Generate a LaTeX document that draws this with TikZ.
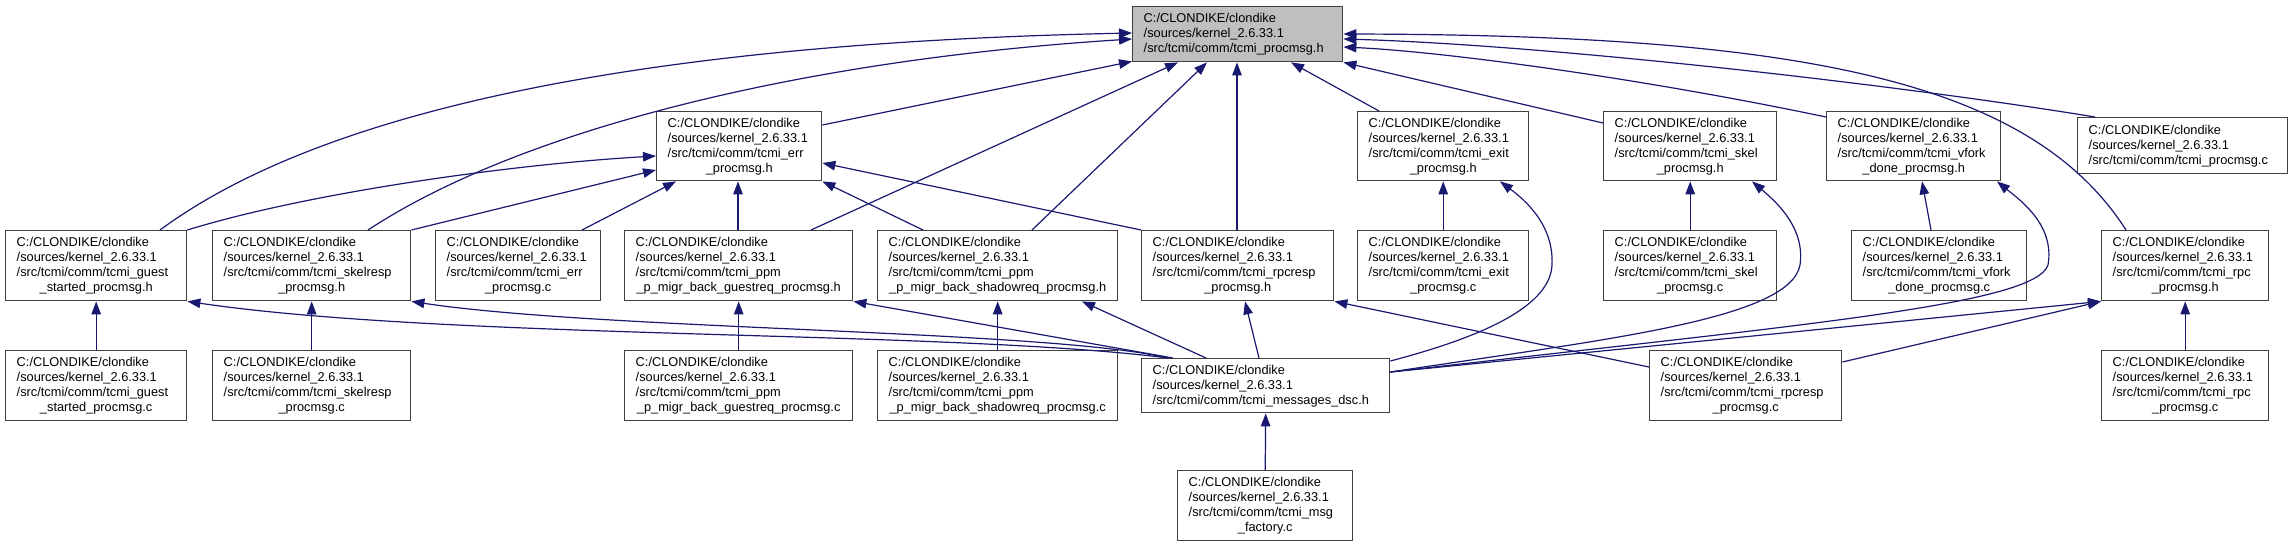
\documentclass[tikz,border=0pt]{standalone}
\usepackage{fontspec}
\setmainfont{Liberation Sans}
\usetikzlibrary{arrows.meta}
\definecolor{edgec}{RGB}{25,25,112}
\definecolor{boxc}{RGB}{64,64,64}
\definecolor{maingray}{RGB}{191,191,191}
\newcommand\mypth[1]{C:/CLONDIKE/clondike\\/sources/kernel\_2.6.33.1\\/src/tcmi/comm/tcmi\_#1}
\newcommand\myctr[1]{\hspace*{0pt plus 1filll}#1\hskip 0pt plus 1filll\mbox{}}
\tikzset{
  box/.style={draw=boxc, line width=1.4pt, anchor=north west, inner xsep=11pt, inner ysep=0pt,
    align=left, font=\fontsize{12.8}{15}\selectfont, fill=white},
  edge/.style={draw=edgec, line width=1.2pt, -{Triangle[length=13pt,width=9.5pt]}}
}
\begin{document}
\begin{tikzpicture}[x=1pt,y=-1pt]
\useasboundingbox (0,0) rectangle (2292,547);
% row 1
\node[box, fill=maingray, minimum width=210pt, minimum height=55pt, text width=188pt] (main) at (1132,6) {\mypth{procmsg.h}};
% row 2
\node[box, minimum width=165pt, minimum height=69pt, text width=143pt] (err_h) at (656,111) {\mypth{err}\\\myctr{\_procmsg.h}};
\node[box, minimum width=171pt, minimum height=69pt, text width=149pt] (exit_h) at (1357,111) {\mypth{exit}\\\myctr{\_procmsg.h}};
\node[box, minimum width=173pt, minimum height=69pt, text width=151pt] (skel_h) at (1603,111) {\mypth{skel}\\\myctr{\_procmsg.h}};
\node[box, minimum width=174pt, minimum height=69pt, text width=152pt] (vfork_h) at (1826,111) {\mypth{vfork}\\\myctr{\_done\_procmsg.h}};
\node[box, minimum width=210pt, minimum height=56pt, text width=188pt] (procmsg_c) at (2077,117) {\mypth{procmsg.c}};
% row 3
\node[box, minimum width=181pt, minimum height=70pt, text width=159pt] (guest_h) at (5,230) {\mypth{guest}\\\myctr{\_started\_procmsg.h}};
\node[box, minimum width=198pt, minimum height=70pt, text width=176pt] (skelresp_h) at (212,230) {\mypth{skelresp}\\\myctr{\_procmsg.h}};
\node[box, minimum width=165pt, minimum height=70pt, text width=143pt] (err_c) at (435,230) {\mypth{err}\\\myctr{\_procmsg.c}};
\node[box, minimum width=228pt, minimum height=70pt, text width=206pt] (guestreq_h) at (624,230) {\mypth{ppm}\\\myctr{\_p\_migr\_back\_guestreq\_procmsg.h}};
\node[box, minimum width=240pt, minimum height=70pt, text width=218pt] (shadowreq_h) at (877,230) {\mypth{ppm}\\\myctr{\_p\_migr\_back\_shadowreq\_procmsg.h}};
\node[box, minimum width=192pt, minimum height=70pt, text width=170pt] (rpcresp_h) at (1141,230) {\mypth{rpcresp}\\\myctr{\_procmsg.h}};
\node[box, minimum width=171pt, minimum height=70pt, text width=149pt] (exit_c) at (1357,230) {\mypth{exit}\\\myctr{\_procmsg.c}};
\node[box, minimum width=173pt, minimum height=70pt, text width=151pt] (skel_c) at (1603,230) {\mypth{skel}\\\myctr{\_procmsg.c}};
\node[box, minimum width=175pt, minimum height=70pt, text width=153pt] (vfork_c) at (1851,230) {\mypth{vfork}\\\myctr{\_done\_procmsg.c}};
\node[box, minimum width=167pt, minimum height=70pt, text width=145pt] (rpc_h) at (2101,230) {\mypth{rpc}\\\myctr{\_procmsg.h}};
% row 4
\node[box, minimum width=181pt, minimum height=70pt, text width=159pt] (guest_c) at (5,350) {\mypth{guest}\\\myctr{\_started\_procmsg.c}};
\node[box, minimum width=198pt, minimum height=70pt, text width=176pt] (skelresp_c) at (212,350) {\mypth{skelresp}\\\myctr{\_procmsg.c}};
\node[box, minimum width=228pt, minimum height=70pt, text width=206pt] (guestreq_c) at (624,350) {\mypth{ppm}\\\myctr{\_p\_migr\_back\_guestreq\_procmsg.c}};
\node[box, minimum width=240pt, minimum height=70pt, text width=218pt] (shadowreq_c) at (877,350) {\mypth{ppm}\\\myctr{\_p\_migr\_back\_shadowreq\_procmsg.c}};
\node[box, minimum width=248pt, minimum height=54pt, text width=226pt] (msgdsc_h) at (1141,358) {\mypth{messages\_dsc.h}};
\node[box, minimum width=192pt, minimum height=70pt, text width=170pt] (rpcresp_c) at (1649,350) {\mypth{rpcresp}\\\myctr{\_procmsg.c}};
\node[box, minimum width=167pt, minimum height=70pt, text width=145pt] (rpc_c) at (2101,350) {\mypth{rpc}\\\myctr{\_procmsg.c}};
% row 5
\node[box, minimum width=175pt, minimum height=70pt, text width=153pt] (factory_c) at (1177,470) {\mypth{msg}\\\myctr{\_factory.c}};

% edges into main
\draw[edge] ([xshift=155pt]guest_h.north west) .. controls (370,75) and (800,40) .. ([yshift=-27pt]main.north west);
\draw[edge] ([xshift=156pt]skelresp_h.north west) .. controls (520,130) and (800,60) .. ([yshift=-33pt]main.north west);
\draw[edge] ([yshift=-14pt]err_h.north east) -- ([yshift=1pt]main.south west);
\draw[edge] ([xshift=187pt]guestreq_h.north west) -- ([xshift=46pt]main.south west);
\draw[edge] ([xshift=155pt]shadowreq_h.north west) -- ([xshift=75pt]main.south west);
\draw[edge] ([xshift=96pt]rpcresp_h.north west) -- ([xshift=105pt]main.south west);
\draw[edge] ([xshift=22pt]exit_h.north west) -- ([xshift=159pt]main.south west);
\draw[edge] ([yshift=-12pt]skel_h.north west) -- (main.south east);
\draw[edge] ([yshift=-6pt]vfork_h.north west) .. controls (1650,80) and (1450,52) .. ([yshift=-41pt]main.north east);
\draw[edge] ([xshift=18pt]procmsg_c.north west) .. controls (1900,85) and (1550,45) .. ([yshift=-33pt]main.north east);
\draw[edge] ([xshift=25pt]rpc_h.north west) .. controls (2030,80) and (1800,35) .. ([yshift=-28pt]main.north east);
% edges into err_h
\draw[edge] (guest_h.north east) .. controls (300,195) and (500,165) .. ([yshift=-45pt]err_h.north west);
\draw[edge] (skelresp_h.north east) -- ([yshift=-59pt]err_h.north west);
\draw[edge] ([xshift=147pt]err_c.north west) -- ([xshift=20pt]err_h.south west);
\draw[edge] ([xshift=114pt]guestreq_h.north west) -- ([xshift=82pt]err_h.south west);
\draw[edge] ([xshift=46pt]shadowreq_h.north west) -- (err_h.south east);
\draw[edge] (rpcresp_h.north west) -- ([yshift=-52pt]err_h.north east);
% vertical edges
\draw[edge] (exit_c.north) -- (exit_h.south);
\draw[edge] (skel_c.north) -- (skel_h.south);
\draw[edge] ([xshift=80pt]vfork_c.north west) -- ([xshift=96pt]vfork_h.south west);
\draw[edge] (rpc_c.north) -- (rpc_h.south);
\draw[edge] (guest_c.north) -- (guest_h.south);
\draw[edge] (skelresp_c.north) -- (skelresp_h.south);
\draw[edge] (guestreq_c.north) -- (guestreq_h.south);
\draw[edge] (shadowreq_c.north) -- (shadowreq_h.south);
\draw[edge] (factory_c.north) -- (msgdsc_h.south);
% edges from messages_dsc and rpcresp_c
\draw[edge] ([xshift=118pt]msgdsc_h.north west) -- ([xshift=104pt]rpcresp_h.south west);
\draw[edge] ([yshift=-17pt]rpcresp_c.north west) -- (rpcresp_h.south east);
\draw[edge] ([xshift=65pt]msgdsc_h.north west) -- ([xshift=205pt]shadowreq_h.south west);
\draw[edge] ([xshift=32pt]msgdsc_h.north west) -- (guestreq_h.south east);
\draw[edge] ([xshift=27pt]msgdsc_h.north west) .. controls (1050,330) and (600,330) .. (skelresp_h.south east);
\draw[edge] ([xshift=27pt]msgdsc_h.north west) .. controls (950,330) and (450,340) .. (guest_h.south east);
\draw[edge] ([yshift=-3pt]msgdsc_h.north east) .. controls (1470,340) and (1550,310) .. (1552,265) .. controls (1554,225) and (1525,200) .. ([xshift=143pt]exit_h.south west);
\draw[edge] ([yshift=-14pt]msgdsc_h.north east) .. controls (1600,340) and (1790,320) .. (1800,265) .. controls (1805,230) and (1780,205) .. ([xshift=149pt]skel_h.south west);
\draw[edge] ([yshift=-14pt]msgdsc_h.north east) .. controls (1800,325) and (2035,305) .. (2048,265) .. controls (2055,225) and (2020,200) .. ([xshift=171pt]vfork_h.south west);
\draw[edge] ([yshift=-14pt]msgdsc_h.north east) -- (rpc_h.south west);
\draw[edge] ([yshift=-12pt]rpcresp_c.north east) -- (rpc_h.south west);
\end{tikzpicture}
\end{document}
